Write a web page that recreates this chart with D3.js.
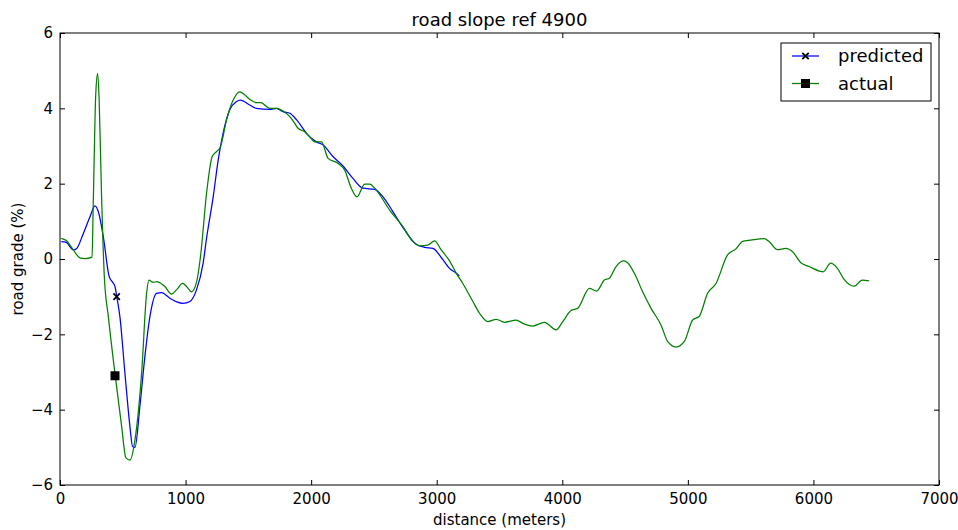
<!DOCTYPE html>
<html><head><meta charset="utf-8">
<script src="https://cdn.jsdelivr.net/npm/d3@7"></script>
<style>
body{margin:0;background:#fff;}
text{font-family:"DejaVu Sans",sans-serif;}
</style></head>
<body><svg id="c" width="958" height="530"></svg>
<script>
const title = "road slope ref 4900";
const xLabel = "distance (meters)";
const yLabel = "road grade (%)";
const xTicks = [0,1000,2000,3000,4000,5000,6000,7000];
const yTicks = [-6,-4,-2,0,2,4,6];
const seriesNames = ["predicted","actual"];

const actualX = [10,50,106,159,200,255,265,285,300,312,330,353,385,438,491,525,557,597,650,690,708,742,770,795,835,888,928,976,1008,1047,1087,1120,1167,1212,1246,1278,1326,1379,1432,1470,1511,1564,1600,1670,1724,1780,1830,1870,1896,1949,2000,2028,2082,2135,2214,2267,2320,2365,2426,2466,2519,2625,2731,2811,2864,2930,2983,3036,3102,3156,3208,3288,3341,3407,3474,3540,3633,3686,3765,3858,3951,4004,4070,4123,4216,4274,4335,4375,4428,4489,4520,4574,4640,4707,4786,4839,4906,4972,5038,5091,5157,5224,5316,5383,5436,5500,5608,5648,5714,5780,5834,5900,5966,6046,6077,6138,6191,6244,6324,6390,6444];
const actualY = [0.55,0.49,0.24,0.03,0.01,0.05,1.5,4.4,4.93,4.2,1.8,-0.47,-1.53,-3.05,-4.45,-5.28,-5.34,-4.8,-3.03,-0.9,-0.56,-0.62,-0.6,-0.63,-0.73,-0.93,-0.82,-0.65,-0.73,-0.87,-0.62,0.1,1.74,2.72,2.85,2.98,3.69,4.22,4.44,4.36,4.24,4.15,4.15,4.0,4.0,3.92,3.78,3.6,3.47,3.38,3.2,3.11,3.11,2.67,2.54,2.36,1.88,1.65,1.99,1.99,1.83,1.30,0.86,0.46,0.35,0.37,0.48,0.24,-0.05,-0.38,-0.65,-1.13,-1.44,-1.66,-1.60,-1.68,-1.62,-1.71,-1.78,-1.68,-1.88,-1.66,-1.37,-1.31,-0.78,-0.85,-0.56,-0.51,-0.20,-0.05,-0.1,-0.38,-0.87,-1.31,-1.75,-2.19,-2.34,-2.19,-1.62,-1.52,-0.91,-0.65,0.11,0.27,0.47,0.5,0.54,0.46,0.25,0.28,0.19,-0.1,-0.2,-0.32,-0.34,-0.11,-0.25,-0.54,-0.72,-0.56,-0.58];

const predX = [10,50,106,133,186,239,278,305,345,392,420,438,451,477,517,557,578,597,636,676,716,769,809,875,930,981,1034,1087,1140,1167,1220,1260,1299,1352,1406,1437,1511,1564,1670,1724,1776,1830,1883,1975,2042,2094,2174,2254,2333,2413,2506,2572,2651,2744,2837,2903,2970,3036,3102,3156,3180];
const predY = [0.46,0.44,0.24,0.28,0.68,1.12,1.41,1.26,0.59,-0.47,-0.62,-0.73,-0.98,-1.53,-3.03,-4.45,-4.98,-5.0,-3.92,-2.59,-1.53,-0.91,-0.89,-1.04,-1.14,-1.18,-1.13,-0.82,-0.11,0.55,1.65,2.63,3.34,3.96,4.18,4.22,4.09,4.0,3.97,4.0,3.91,3.87,3.7,3.29,3.11,3.03,2.72,2.47,2.14,1.88,1.85,1.65,1.26,0.77,0.39,0.31,0.28,0.04,-0.25,-0.38,-0.45];

const predMarker = [451, -1.0];
const actualMarker = [438, -3.1];

const svg = d3.select("#c");
const L=60, R=939, T=33, B=485;
const x = d3.scaleLinear().domain([0,7000]).range([L,R]);
const y = d3.scaleLinear().domain([-6,6]).range([B,T]);

const clip = svg.append("clipPath").attr("id","clp").append("rect")
  .attr("x",L).attr("y",T).attr("width",R-L).attr("height",B-T);

const line = d3.line().x(d=>x(d[0])).y(d=>y(d[1])).curve(d3.curveMonotoneX);
const pData = predX.map((v,i)=>[v,predY[i]]);
const aData = actualX.map((v,i)=>[v,actualY[i]]);

const g = svg.append("g").attr("clip-path","url(#clp)");
g.append("path").datum(pData).attr("d",line).attr("fill","none").attr("stroke","#0000ff").attr("stroke-width",1.25);
g.append("path").datum(aData).attr("d",line).attr("fill","none").attr("stroke","#008000").attr("stroke-width",1.25);

// markers
function xMark(sel,cx,cy,s){
  sel.append("path").attr("d",`M${cx-s},${cy-s}L${cx+s},${cy+s}M${cx-s},${cy+s}L${cx+s},${cy-s}`)
    .attr("stroke","#000").attr("stroke-width",1.8).attr("fill","none");
}
xMark(svg, x(predMarker[0]), y(predMarker[1]), 3.2);
svg.append("rect").attr("x",x(actualMarker[0])-4.5).attr("y",y(actualMarker[1])-4.5)
  .attr("width",9).attr("height",9).attr("fill","#000");

// axes (ticks inside, all four sides)
const tl = 5;
const axB = d3.axisBottom(x).tickValues(xTicks).tickSizeInner(-tl).tickSizeOuter(0).tickPadding(8).tickFormat(d3.format("d"));
const axT = d3.axisTop(x).tickValues(xTicks).tickSizeInner(-tl).tickSizeOuter(0).tickFormat("");
const fmtY = d=> d<0 ? "\u2212"+Math.abs(d) : String(d);
const axL = d3.axisLeft(y).tickValues(yTicks).tickSizeInner(-tl).tickSizeOuter(0).tickPadding(7).tickFormat(fmtY);
const axR = d3.axisRight(y).tickValues(yTicks).tickSizeInner(-tl).tickSizeOuter(0).tickFormat("");

function styleAx(gg){
  gg.select(".domain").remove();
  gg.selectAll(".tick line").attr("stroke","#000").attr("stroke-width",1);
  gg.selectAll(".tick text").attr("font-size",15).attr("fill","#000").style("font-family","DejaVu Sans");
}
styleAx(svg.append("g").attr("transform",`translate(0,${B})`).call(axB));
styleAx(svg.append("g").attr("transform",`translate(0,${T})`).call(axT));
styleAx(svg.append("g").attr("transform",`translate(${L},0)`).call(axL));
styleAx(svg.append("g").attr("transform",`translate(${R},0)`).call(axR));

svg.append("rect").attr("x",L).attr("y",T).attr("width",R-L).attr("height",B-T)
  .attr("fill","none").attr("stroke","#000").attr("stroke-width",1);

// title and labels
svg.append("text").attr("x",(L+R)/2).attr("y",26).attr("text-anchor","middle")
  .attr("font-size",18).text(title);
svg.append("text").attr("x",(L+R)/2).attr("y",525).attr("text-anchor","middle")
  .attr("font-size",15).text(xLabel);
svg.append("text").attr("transform",`translate(23,${(T+B)/2}) rotate(-90)`).attr("text-anchor","middle")
  .attr("font-size",15).text(yLabel);

// legend
const lg = svg.append("g");
lg.append("rect").attr("x",781).attr("y",43).attr("width",150).attr("height",58)
  .attr("fill","#fff").attr("stroke","#000").attr("stroke-width",1);
const legColors = ["#0000ff","#008000"];
seriesNames.forEach((n,i)=>{
  const cy = 56 + i*27.5;
  lg.append("line").attr("x1",792).attr("x2",819).attr("y1",cy).attr("y2",cy)
    .attr("stroke",legColors[i]).attr("stroke-width",1.25);
  if(i===0) xMark(lg,805.5,cy,3.2);
  else lg.append("rect").attr("x",801).attr("y",cy-4.5).attr("width",9).attr("height",9).attr("fill","#000");
  lg.append("text").attr("x",838).attr("y",cy+6).attr("font-size",18).text(n);
});
</script></body></html>
